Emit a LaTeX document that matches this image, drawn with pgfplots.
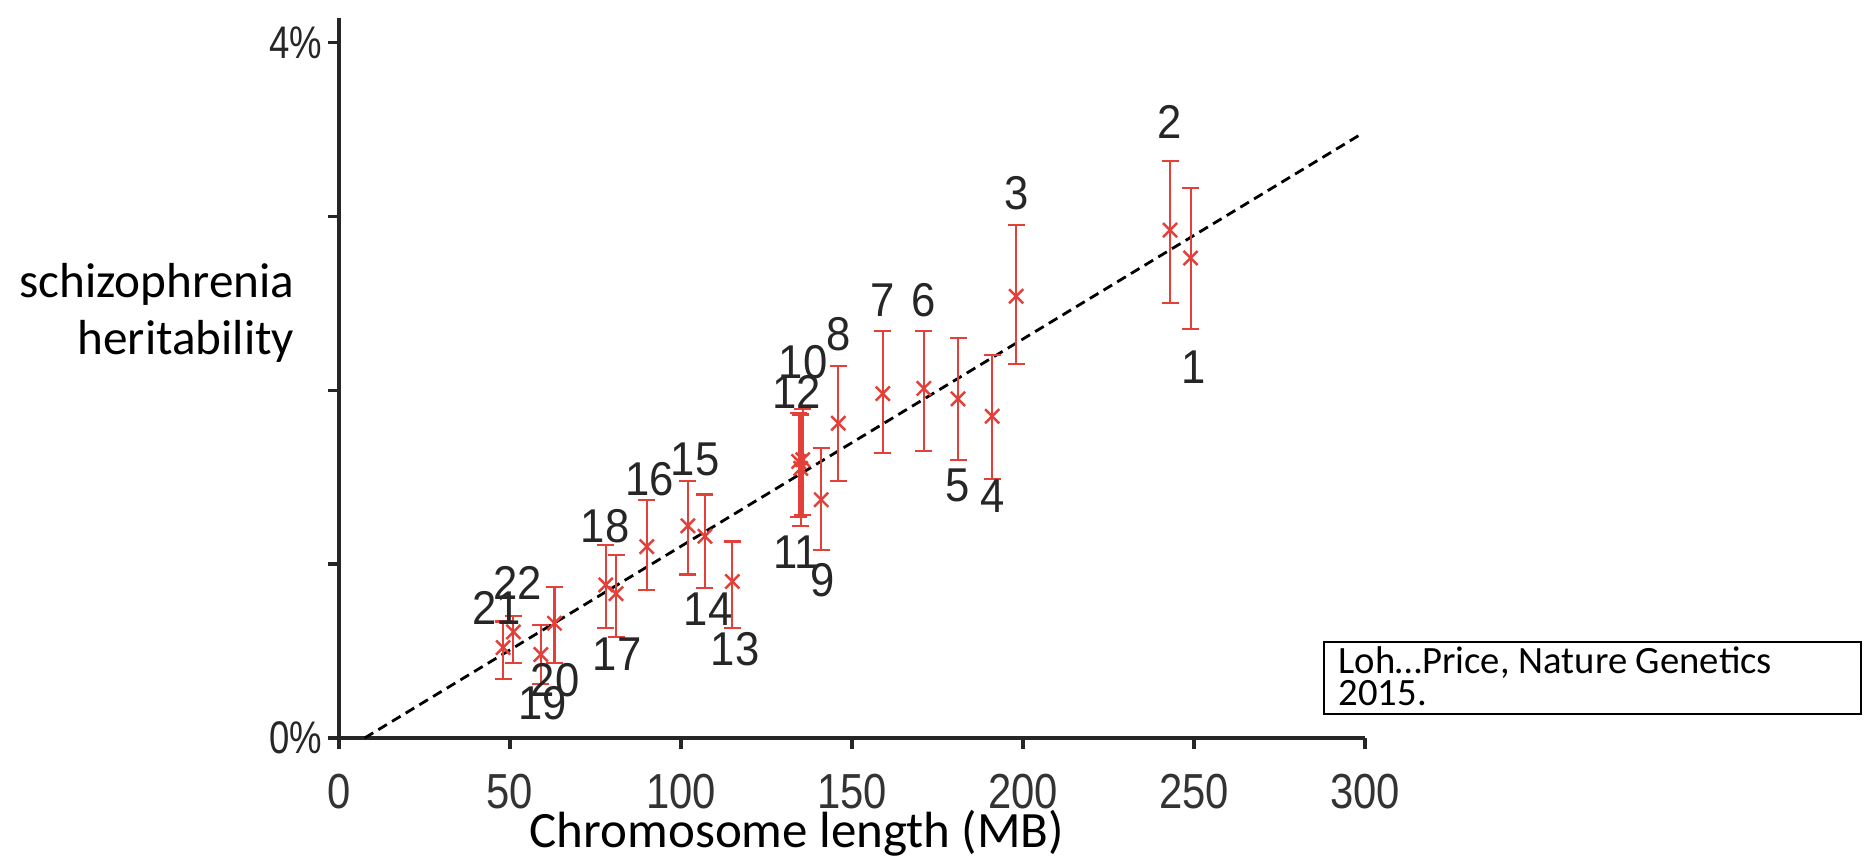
\documentclass[border=0pt]{standalone}
\usepackage{fontspec}
\setmainfont{Carlito}
\newfontfamily\arial[FakeStretch=0.92]{Liberation Sans}
\newfontfamily\arialn[FakeStretch=0.85]{Liberation Sans}
\newfontfamily\arialp[FakeStretch=0.8]{Liberation Sans}
\usepackage{pgfplots}
\pgfplotsset{compat=1.18}
\usepackage{pgfplotstable}
\definecolor{errred}{HTML}{E3403A}

% chr, length (MB), heritability (%), error up, error down
\pgfplotstableread{
chr x y ep em
1 249 2.76 0.40 0.41
2 243 2.92 0.40 0.42
3 198 2.54 0.41 0.39
4 191 1.85 0.35 0.36
5 181 1.95 0.35 0.35
6 171 2.01 0.33 0.36
7 159 1.98 0.36 0.34
8 146 1.81 0.33 0.33
9 141 1.37 0.30 0.29
10 135.6 1.60 0.29 0.32
11 135 1.55 0.31 0.33
12 134.4 1.59 0.28 0.32
13 115 0.90 0.23 0.27
14 107 1.16 0.24 0.30
15 102 1.22 0.26 0.28
16 90 1.10 0.27 0.25
17 81 0.83 0.22 0.25
18 78 0.88 0.23 0.25
19 59 0.48 0.17 0.17
20 63 0.66 0.21 0.23
21 48 0.52 0.15 0.18
22 51 0.61 0.09 0.18
}\chrdata

\begin{document}
\begin{tikzpicture}
\begin{axis}[
  scale only axis,
  width=102.6mm, height=72.0mm,
  xmin=0, xmax=300, ymin=0, ymax=4.14,
  axis lines=left,
  axis line style={-, line width=0.9pt, color=black!85},
  tick align=outside, tick pos=left,
  major tick length=1.1mm,
  tick style={line width=0.9pt, color=black!85},
  xtick={0,50,...,300},
  ytick={0,1,2,3,4},
  yticklabels={0\%,,,,4\%},
  xticklabel style={font=\arialn\fontsize{14}{14}\selectfont, anchor=center, yshift=-4.3mm, text=black!80},
  yticklabel style={font=\arialp\fontsize{13}{13}\selectfont, anchor=center, xshift=-3.2mm, text=black!85},
  xticklabel={\pgfmathprintnumber[assume math mode=true]{\tick}},
  clip=false,
]
\addplot[black, line width=0.8pt, dash pattern=on 1mm off 0.6mm] coordinates {(7.5,0) (299.5,3.48)};

\addplot[only marks, mark=x, mark size=1mm, color=errred, line width=0.7pt,
  error bars/.cd, y dir=both, y explicit,
  error bar style={line width=0.6pt, color=errred},
  error mark options={rotate=90, mark size=0.85mm, line width=0.6pt, color=errred}]
  table[x=x, y=y, y error plus=ep, y error minus=em] {\chrdata};

\begin{scope}[every node/.style={font=\arial\fontsize{13.5}{13.5}\selectfont, text=black!85, inner sep=0pt}]
\node at (axis cs:243,3.54) {2};
\node at (axis cs:198,3.13) {3};
\node at (axis cs:250,2.13) {1};
\node at (axis cs:159,2.52) {7};
\node at (axis cs:171,2.52) {6};
\node at (axis cs:181,1.45) {5};
\node at (axis cs:191,1.39) {4};
\node at (axis cs:146,2.32) {8};
\node at (axis cs:135.7,2.16) {10};
\node at (axis cs:133.9,1.99) {12};
\node at (axis cs:133.6,1.07) {11};
\node at (axis cs:141.3,0.91) {9};
\node at (axis cs:90.9,1.49) {16};
\node at (axis cs:104.1,1.60) {15};
\node at (axis cs:77.8,1.22) {18};
\node at (axis cs:52.3,0.89) {22};
\node at (axis cs:46.2,0.75) {21};
\node at (axis cs:81.3,0.48) {17};
\node at (axis cs:107.9,0.74) {14};
\node at (axis cs:115.8,0.51) {13};
\node at (axis cs:63.2,0.33) {20};
\node at (axis cs:59.6,0.20) {19};
\end{scope}
\end{axis}

\node[anchor=east, align=right, font=\fontsize{14}{16}\selectfont, inner sep=0pt] at (-4.4mm,42.5mm) {schizophrenia\\heritability};
\node[font=\fontsize{14.5}{14.5}\selectfont, inner sep=0pt] at (45.8mm,-9.5mm) {Chromosome length (MB)};
\draw[line width=0.5pt] (98.5mm,2.4mm) rectangle (152.2mm,9.6mm);
\node[anchor=west, align=left, font=\fontsize{11}{9.2}\selectfont, inner sep=0pt] at (99.9mm,6.2mm) {Loh\ldots Price, Nature Genetics\\2015.};
\path (-33.9mm,-12.3mm) rectangle (152.6mm,73.8mm);
\end{tikzpicture}
\end{document}
